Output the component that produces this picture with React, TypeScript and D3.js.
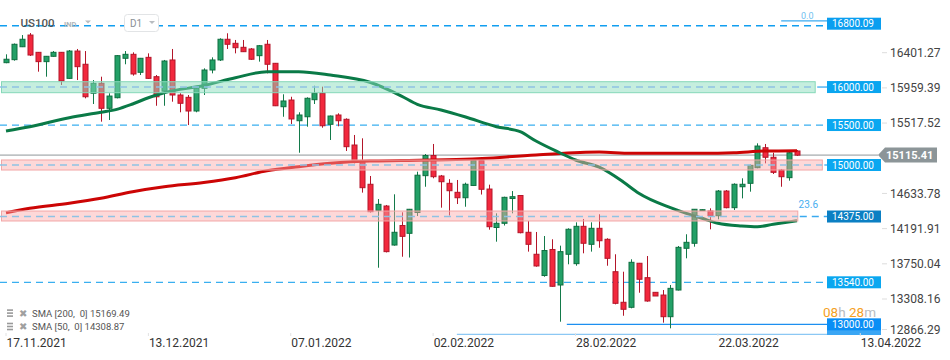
import React from 'react';
import * as d3 from 'd3';

const W = 950;
const H = 360;

// daily candles, first bar = 17.11.2021
const opens = [16276, 16314, 16476, 16623, 16406, 16289, 16356, 16406, 16079, 16422, 16256, 15892, 16017, 15703, 15836, 16331, 16381, 16155, 16343, 16100, 15920, 16310, 15870, 15841, 15669, 15954, 16184, 16310, 16570, 16519, 16469, 16448, 16364, 16507, 16268, 15723, 15807, 15547, 15597, 15811, 15892, 15502, 15619, 15565, 15242, 15032, 14749, 14422, 14476, 13986, 14231, 14133, 14395, 14857, 15110, 14853, 14761, 14648, 14580, 14734, 15047, 14689, 14206, 14259, 14570, 14608, 14146, 13870, 13603, 13930, 13484, 13870, 13752, 14221, 13995, 14196, 14058, 13651, 13267, 13204, 13757, 13576, 13392, 13358, 13086, 13421, 13945, 14008, 14420, 14413, 14354, 14664, 14455, 14718, 14761, 14957, 15208, 15088, 14928, 14832, 15167];
const highs = [16381, 16517, 16623, 16648, 16410, 16360, 16422, 16410, 16435, 16448, 16422, 16058, 16100, 15892, 16372, 16422, 16406, 16335, 16393, 16121, 16310, 16448, 15892, 15870, 15975, 16205, 16343, 16582, 16645, 16561, 16561, 16460, 16498, 16561, 16272, 15879, 15848, 15653, 15841, 15987, 15975, 15612, 15640, 15577, 15368, 15326, 14853, 14564, 14489, 14623, 14397, 14439, 14907, 15129, 15255, 14866, 14813, 14803, 14769, 15066, 15066, 14744, 14384, 14593, 14664, 14611, 14288, 14150, 14099, 14058, 13978, 14196, 14271, 14313, 14271, 14372, 14071, 13870, 13651, 13807, 13761, 13848, 13392, 13421, 13484, 13974, 14121, 14435, 14435, 14447, 14677, 14677, 14761, 14824, 15000, 15263, 15255, 15145, 14941, 15179, 15179];
const lows = [16269, 16301, 16472, 16360, 16163, 16100, 16351, 15996, 16071, 16058, 15828, 15757, 15535, 15556, 15828, 16256, 16113, 16121, 16071, 15735, 15735, 15786, 15653, 15493, 15653, 15870, 16142, 16297, 16448, 16393, 16410, 16310, 16289, 16142, 15731, 15597, 15506, 15145, 15472, 15757, 15459, 15305, 15477, 15167, 15012, 14644, 14395, 13701, 13893, 13978, 13839, 13829, 14350, 14718, 14824, 14455, 14357, 14501, 14467, 14727, 14620, 14179, 14028, 14231, 14384, 14133, 13903, 13714, 13588, 13463, 13023, 13744, 13726, 13882, 13903, 13952, 13726, 13241, 13098, 13191, 13387, 13274, 13346, 13011, 12940, 13415, 13819, 13965, 14415, 14183, 14309, 14447, 14426, 14572, 14656, 14950, 15012, 14878, 14718, 14794, 15104];
const closes = [16319, 16507, 16570, 16372, 16289, 16356, 16406, 16046, 16422, 16226, 15848, 16017, 15703, 15857, 16364, 16381, 16134, 16331, 16079, 15848, 16297, 15870, 15766, 15669, 15954, 16184, 16310, 16570, 16507, 16464, 16414, 16319, 16489, 16256, 15735, 15795, 15569, 15619, 15829, 15892, 15484, 15606, 15547, 15221, 15032, 14706, 14405, 14497, 13903, 14146, 14095, 14435, 14863, 15110, 14844, 14781, 14668, 14580, 14749, 15047, 14686, 14216, 14259, 14585, 14593, 14141, 13995, 13723, 13917, 13468, 13903, 14184, 14221, 14008, 14196, 14040, 13819, 13254, 13179, 13769, 13556, 13283, 13346, 13086, 13442, 13957, 14020, 14435, 14430, 14354, 14664, 14455, 14749, 14749, 14987, 15229, 15088, 14899, 14844, 15145, 15115];

const dateTickIdx = [0, 18, 36, 54, 72, 90, 108];
const dateTickLabels = ['17.11.2021', '13.12.2021', '07.01.2022', '02.02.2022', '28.02.2022', '22.03.2022', '13.04.2022'];

const priceTicks = [16401.27, 15959.39, 15517.52, 14633.78, 14191.91, 13750.04, 13308.16, 12866.29];
const lastPrice = 15115.41;

const sma200Idx = [0, 3, 8, 12, 16, 20, 25, 29, 33, 37, 41, 46, 50, 58, 67, 75, 79, 88, 92, 96, 100];
const sma200Val = [14392, 14447, 14510, 14573, 14656, 14718, 14771, 14831, 14919, 14970, 15012, 15041, 15047, 15062, 15117, 15154, 15138, 15138, 15145, 15167, 15171];
const sma50Idx = [0, 3, 8, 12, 14, 16, 18, 20, 25, 29, 33, 37, 41, 46, 50, 52, 55, 58, 62, 65, 67, 70, 72, 75, 78, 80, 84, 86, 88, 90, 93, 95, 97, 100];
const sma50Val = [15418, 15472, 15585, 15653, 15690, 15757, 15836, 15899, 15989, 16087, 16163, 16163, 16121, 16030, 15857, 15753, 15682, 15597, 15472, 15409, 15292, 15145, 15054, 14963, 14781, 14636, 14455, 14384, 14322, 14259, 14225, 14216, 14246, 14291];

// support / resistance zones
const zoneLow = [15899, 14928, 14288];
const zoneHigh = [16037, 15054, 14413];
const zoneMid = [15970, 14991, 14344];
const zoneEnd = [102.3, 103.2, 100.1];
const zoneLabels = ['16000.00', '15000.00', '14375.00'];

const dashLevels = [16740, 15493, 13518];
const dashLabels = ['16800.09', '15500.00', '13540.00'];

const fibTop = 16800.09;
const supportLevel = 12990;
const supportStart = 70.9;
const lowLine = 12865;
const lowLineStart = 57;

const legendRows = ['SMA [200,  0] 15169.49', 'SMA [50,  0] 14308.87'];

const FONT = 'Roboto, "Noto Sans", sans-serif';

const App: React.FC = () => {
  const x = d3.scaleLinear().domain([0, 108]).range([6, 6 + 108 * 7.91]);
  const y = d3.scaleLinear().domain([16401.27, 12866.29]).range([52.7, 52.7 + 3534.98 / 12.558]);

  const boxX = 827;
  const boxW = 54;

  const line = d3.line<[number, number]>()
    .x(d => x(d[0]))
    .y(d => y(d[1]))
    .curve(d3.curveMonotoneX);

  const sma200 = line(sma200Idx.map((i, k) => [i, sma200Val[k]]));
  const sma50 = line(sma50Idx.map((i, k) => [i, sma50Val[k]]));

  const box = (cy: number, label: string, fill: string, key: string) => (
    <g key={key}>
      <rect x={boxX} y={cy - 6} width={boxW} height={12} fill={fill} />
      <text x={boxX + 5} y={cy + 3.7} fontSize={10} fill="#fff" fontFamily={FONT}>{label}</text>
    </g>
  );

  const lastY = y(lastPrice);

  return (
    <svg width={W} height={H} style={{ position: 'absolute', left: 0, top: 0, background: '#fff' }}>
      {/* dashed levels */}
      {dashLevels.map((v, k) => (
        <line key={'d' + k} x1={0} x2={boxX} y1={y(v)} y2={y(v)}
          stroke={k === 0 ? '#119ef0' : '#3aaff0'} strokeWidth={1.3} strokeDasharray="7,5" />
      ))}
      {/* fib 0.0 */}
      <line x1={x(98)} x2={boxX} y1={y(fibTop)} y2={y(fibTop)} stroke="#3aaaf0" strokeWidth={1.2} />
      <text x={x(100.5)} y={y(fibTop) - 2} fontSize={9} fill="#6fc0f0" fontFamily={FONT}>0.0</text>

      {/* lower solid lines */}
      <line x1={x(supportStart)} x2={boxX} y1={y(supportLevel)} y2={y(supportLevel)} stroke="#1c8ff0" strokeWidth={1.3} />
      <line x1={x(lowLineStart)} x2={880} y1={y(lowLine)} y2={y(lowLine)} stroke="#8cc8f4" strokeWidth={1.3} />

      {/* last price line */}
      <line x1={0} x2={878} y1={lastY} y2={lastY} stroke="#8f9799" strokeWidth={1} />

      {/* candles */}
      {opens.map((o, i) => {
        const c = closes[i];
        const up = c >= o;
        const cx = Math.round(x(i));
        const top = y(Math.max(o, c));
        const bot = y(Math.min(o, c));
        return (
          <g key={'c' + i}>
            <line x1={cx + 0.5} x2={cx + 0.5} y1={y(highs[i])} y2={y(lows[i])}
              stroke={up ? '#137a4a' : '#b3162a'} strokeWidth={1} />
            <rect x={cx - 2} y={top} width={5} height={Math.max(1, bot - top)}
              fill={up ? '#23a067' : '#f2283d'} stroke={up ? '#0f6e40' : '#b3162a'} strokeWidth={1} />
          </g>
        );
      })}

      {/* moving averages */}
      <path d={sma200 || ''} fill="none" stroke="#cc0505" strokeWidth={3} />
      <path d={sma50 || ''} fill="none" stroke="#0a7a47" strokeWidth={3} />

      {/* zones */}
      {zoneLow.map((lo, k) => {
        const green = k === 0;
        const yt = y(zoneHigh[k]);
        const yb = y(lo);
        return (
          <g key={'z' + k}>
            <rect x={1.5} y={yt} width={x(zoneEnd[k]) - 1.5} height={yb - yt}
              fill={green ? 'rgba(140,222,190,0.5)' : 'rgba(250,168,168,0.45)'}
              stroke={green ? '#86d8b8' : '#f2a6a6'} strokeWidth={1} />
            <line x1={0} x2={x(zoneEnd[k])} y1={y(zoneMid[k])} y2={y(zoneMid[k])}
              stroke="#8ec2e4" strokeWidth={1.4} strokeDasharray="7,5" />
            <line x1={x(zoneEnd[k]) + 2} x2={boxX} y1={y(zoneMid[k])} y2={y(zoneMid[k])}
              stroke="#3aaaf0" strokeWidth={1.3} strokeDasharray={k === 2 ? '7,5' : ''} />
          </g>
        );
      })}
      <text x={x(100.2)} y={y(zoneHigh[2]) - 3} fontSize={10} fill="#47aef0" fontFamily={FONT}>23.6</text>

      {/* level boxes */}
      {box(23.7, dashLabels[0], '#0a9ef0', 'b0')}
      {box(y(zoneMid[0]), zoneLabels[0], '#0aa5ef', 'b1')}
      {box(y(dashLevels[1]), dashLabels[1], '#0aa7f0', 'b2')}
      {box(y(zoneMid[1]), zoneLabels[1], '#0aa7f0', 'b3')}
      {box(y(zoneMid[2]), zoneLabels[2], '#0b7fc3', 'b4')}
      {box(y(dashLevels[2]), dashLabels[2], '#0aa7f0', 'b5')}
      <rect x={boxX} y={330} width={boxW} height={5} fill="#3aa6f4" />
      {box(y(supportLevel), '13000.00', '#0a8ef5', 'b6')}

      {/* countdown */}
      <text x={823} y={316.5} fontSize={13.5} fontFamily={FONT}>
        <tspan fill="#f5a11f">08</tspan>
        <tspan fill="#b8bcbf">h </tspan>
        <tspan fill="#f5a11f">28</tspan>
        <tspan fill="#b8bcbf">m</tspan>
      </text>

      {/* price axis */}
      {priceTicks.map((p, k) => {
        const ty = Math.min(y(p), 329.5);
        return (
          <g key={'p' + k}>
            <line x1={882} x2={887} y1={ty} y2={ty} stroke="#ddd" />
            <text x={890} y={ty + 4.3} fontSize={12} fill="#444" fontFamily={FONT}>{p.toFixed(2)}</text>
          </g>
        );
      })}
      <polygon points={`878,${lastY} 885,${lastY - 7.5} 937,${lastY - 7.5} 937,${lastY + 7.5} 885,${lastY + 7.5}`} fill="#8c9598" />
      <text x={886} y={lastY + 4} fontSize={11} fontWeight="bold" fill="#fff" fontFamily={FONT}>{lastPrice.toFixed(2)}</text>

      {/* date axis */}
      {dateTickIdx.map((i, k) => (
        <g key={'t' + k}>
          <line x1={x(i)} x2={x(i)} y1={333} y2={336} stroke="#e2e2e2" />
          <text x={x(i) + 0.5} y={347} fontSize={12} fill="#333" fontFamily={FONT}>{dateTickLabels[k]}</text>
        </g>
      ))}

      {/* legend */}
      {legendRows.map((t, k) => {
        const ly = 313.3 + k * 13.4;
        return (
          <g key={'l' + k}>
            <rect x={7} y={ly - 4} width={6} height={1.6} fill="#9a9a9a" />
            <rect x={7} y={ly - 1} width={6} height={1.6} fill="#9a9a9a" />
            <rect x={7} y={ly + 2} width={6} height={1.6} fill="#9a9a9a" />
            <text x={18.5} y={ly + 3.5} fontSize={10} fill="#a0a0a0" fontFamily={FONT}>✖</text>
            <text x={32} y={ly + 3.3} fontSize={9.5} fill="#555" fontFamily={FONT} style={{ whiteSpace: 'pre' }}>{t}</text>
          </g>
        );
      })}

      {/* header */}
      <text x={20.5} y={26.7} fontSize={11.5} fontWeight={500} fill="#555" fontFamily={FONT}>US100</text>
      <text x={64} y={26.5} fontSize={7.5} fontWeight="bold" fill="#b0b4b8" fontFamily={FONT}>IND</text>
      <polygon points="85,20.5 91,20.5 88,23.5" fill="#b8bcc0" />
      <rect x={124.5} y={14.5} width={34} height={17} rx={3} fill="#fff" stroke="#e2e4e6" />
      <text x={130} y={26.5} fontSize={10} fill="#8a9096" fontFamily={FONT}>D1</text>
      <polygon points="149,21 155,21 152,24" fill="#b8bcc0" />
    </svg>
  );
};

export default App;
